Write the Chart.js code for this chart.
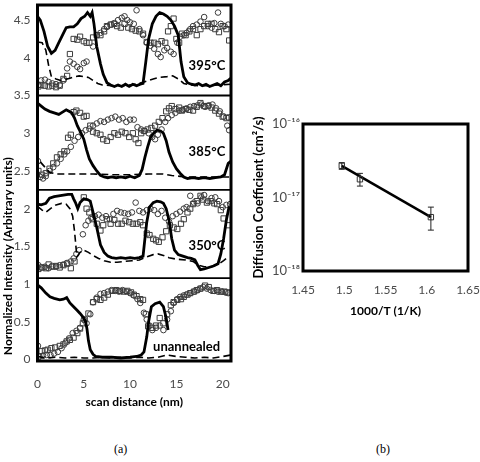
<!DOCTYPE html>
<html><head><meta charset="utf-8">
<script src="https://cdn.jsdelivr.net/npm/chart.js@4/dist/chart.umd.min.js"></script>
<style>
html,body{margin:0;padding:0;background:#fff;width:480px;height:462px;overflow:hidden;}
#wa{position:absolute;left:0;top:0;width:240px;height:412px;}
#wb{position:absolute;left:250px;top:90px;width:230px;height:240px;}
.cap{position:absolute;top:442px;line-height:14px;font-family:"Liberation Serif","DejaVu Serif",serif;font-size:12px;color:#000;}
</style></head><body>
<div id="wa"><canvas id="ca" width="240" height="412"></canvas></div>
<div id="wb"><canvas id="cb" width="230" height="240"></canvas></div>
<div class="cap" style="left:114px">(a)</div>
<div class="cap" style="left:376px">(b)</div>
<script>
// ---------- DATA: panel (a) scan profiles [distance nm, normalized intensity] ----------
const s395Solid = [[0,4.55],[0.3,4.5],[0.7,4.35],[1.1,4.15],[1.5,4.06],[1.9,4.1],[2.3,4.2],[2.7,4.3],[3.1,4.4],[3.5,4.41],[3.9,4.41],[4.3,4.45],[4.7,4.52],[5.1,4.55],[5.4,4.6],[5.7,4.55],[5.9,4.6],[6.1,4.45],[6.4,4.15],[6.8,3.92],[7.1,3.78],[7.5,3.67],[7.9,3.64],[8.3,3.62],[8.7,3.64],[9.1,3.62],[9.5,3.65],[9.9,3.62],[10.3,3.65],[10.7,3.63],[11.1,3.65],[11.4,3.66],[11.7,3.95],[12.0,4.25],[12.4,4.45],[12.8,4.55],[13.2,4.6],[13.6,4.58],[14.0,4.55],[14.4,4.5],[14.8,4.42],[15.2,4.3],[15.5,3.95],[15.8,3.75],[16.2,3.67],[16.6,3.65],[17.0,3.64],[17.4,3.66],[17.8,3.63],[18.2,3.65],[18.6,3.62],[19.0,3.64],[19.4,3.66],[19.8,3.63],[20.2,3.68],[20.6,3.7],[20.9,3.73]];
const s395Dashed = [[0,4.21],[0.5,4.2],[0.9,4.1],[1.2,3.9],[1.5,3.75],[2.0,3.72],[2.5,3.7],[3.0,3.71],[3.5,3.73],[4.0,3.75],[4.5,3.76],[5.0,3.75],[5.5,3.74],[6.0,3.7],[6.5,3.66],[7.0,3.64],[8,3.63],[9,3.63],[10,3.64],[11,3.66],[11.8,3.69],[12.5,3.72],[13.2,3.74],[14,3.75],[14.6,3.76],[15.2,3.72],[15.8,3.66],[16.5,3.64],[17.5,3.63],[18.5,3.63],[19.5,3.64],[20.9,3.65]];
const s395Circles = [[0.1,3.64],[0.4,3.7],[0.8,3.71],[1.2,3.68],[1.6,3.66],[2.0,3.65],[2.4,3.64],[2.8,3.7],[3.2,3.86],[3.5,3.95],[3.9,3.92],[4.3,3.88],[4.6,3.85],[5.0,3.93],[5.3,3.95],[6.0,4.15],[6.4,4.3],[6.8,4.33],[7.2,4.38],[7.5,4.41],[7.9,4.44],[8.3,4.46],[8.7,4.5],[9.1,4.53],[9.4,4.55],[9.7,4.5],[10.0,4.47],[10.4,4.45],[10.7,4.63],[11.0,4.38],[11.4,4.3],[11.8,4.2],[12.2,4.16],[12.6,4.12],[13.0,4.05],[13.3,4.01],[13.7,4.1],[14.0,4.13],[14.4,4.08],[14.7,4.05],[15.1,4.2],[15.4,4.28],[15.8,4.3],[16.1,4.33],[16.5,4.38],[16.8,4.42],[17.2,4.44],[17.6,4.48],[18.0,4.54],[18.4,4.42],[18.8,4.4],[19.1,4.46],[19.5,4.6],[19.8,4.45],[20.2,4.42],[20.6,4.44]];
const s395Squares = [[0.1,3.62],[0.4,3.64],[0.8,3.63],[1.2,3.62],[1.6,3.63],[2.0,3.61],[2.4,3.63],[2.8,3.72],[3.2,3.76],[3.5,4.05],[3.9,4.25],[4.3,4.24],[4.6,4.28],[5.0,4.22],[5.3,4.2],[5.6,4.2],[6.0,4.27],[6.4,4.3],[6.8,4.3],[7.2,4.35],[7.5,4.42],[7.9,4.44],[8.3,4.45],[8.6,4.42],[9.0,4.4],[9.4,4.45],[9.8,4.4],[10.2,4.38],[10.6,4.36],[11.0,4.35],[11.4,4.32],[11.8,4.21],[12.2,4.2],[12.6,4.2],[13.0,4.18],[13.4,4.22],[13.8,4.2],[14.1,4.35],[14.4,4.42],[14.7,4.52],[15.0,4.25],[15.3,4.2],[15.6,4.32],[16.0,4.3],[16.4,4.35],[16.8,4.38],[17.2,4.3],[17.6,4.38],[18.0,4.42],[18.4,4.45],[18.8,4.45],[19.2,4.38],[19.6,4.34],[20.0,4.42],[20.4,4.38],[20.7,4.23]];

const s385Solid = [[0,3.4],[0.4,3.36],[0.8,3.32],[1.3,3.29],[1.8,3.27],[2.3,3.25],[2.7,3.28],[3.1,3.31],[3.4,3.29],[3.7,3.27],[4.0,3.2],[4.3,3.1],[4.7,3.0],[5.0,2.92],[5.3,2.78],[5.6,2.66],[6.0,2.57],[6.4,2.5],[6.8,2.44],[7.2,2.42],[7.6,2.41],[8.0,2.42],[8.5,2.41],[9.0,2.42],[9.5,2.41],[10.0,2.43],[10.5,2.41],[11.0,2.44],[11.3,2.52],[11.6,2.68],[11.9,2.82],[12.2,2.94],[12.6,3.01],[12.9,3.04],[13.3,3.03],[13.6,3.0],[13.9,2.9],[14.2,2.75],[14.6,2.62],[15.0,2.53],[15.4,2.47],[15.8,2.42],[16.2,2.4],[16.8,2.41],[17.4,2.4],[18.0,2.41],[18.6,2.4],[19.2,2.41],[19.8,2.42],[20.2,2.45],[20.6,2.6],[20.9,2.63]];
const s385Dashed = [[0.3,2.62],[0.8,2.55],[1.3,2.48],[2,2.46],[4,2.46],[6,2.46],[8,2.45],[10,2.45],[12,2.46],[13.5,2.46],[14.5,2.44],[16,2.42],[18,2.42],[20.9,2.42]];
const s385Circles = [[0.05,2.63],[0.3,2.42],[0.6,2.4],[0.9,2.43],[1.3,2.5],[1.7,2.55],[2.1,2.6],[2.5,2.66],[2.9,2.72],[3.2,2.76],[3.6,2.82],[4.0,2.9],[4.4,2.95],[4.8,3.0],[5.2,3.04],[5.6,3.06],[6.0,3.1],[6.4,3.13],[6.8,3.16],[7.2,3.15],[7.6,3.18],[8.0,3.2],[8.4,3.22],[8.8,3.18],[9.2,3.2],[9.6,3.15],[10.0,3.18],[10.4,3.18],[10.8,3.08],[11.2,3.05],[11.6,3.03],[12.0,3.0],[12.4,2.95],[12.7,2.92],[13.0,2.98],[13.4,3.05],[13.8,3.15],[14.1,3.2],[14.5,3.24],[14.9,3.27],[15.3,3.3],[15.7,3.31],[16.1,3.33],[16.5,3.35],[16.9,3.36],[17.3,3.37],[17.7,3.38],[18.1,3.35],[18.5,3.37],[18.9,3.38],[19.3,3.33],[19.7,3.29],[20.1,3.22],[20.5,3.1],[20.7,3.04]];
const s385Squares = [[0.1,2.5],[0.5,2.45],[0.9,2.47],[1.3,2.53],[1.7,2.6],[2.1,2.68],[2.5,2.72],[2.9,2.76],[3.3,2.94],[3.6,2.98],[3.9,3.28],[4.2,3.3],[4.6,3.27],[5.0,3.22],[5.3,3.23],[5.7,3.1],[6.0,3.02],[6.4,3.0],[6.8,2.98],[7.1,2.92],[7.5,2.9],[7.9,2.95],[8.3,3.0],[8.7,2.98],[9.1,3.02],[9.5,3.0],[9.9,2.95],[10.3,3.0],[10.6,2.92],[10.9,2.87],[11.2,3.0],[11.5,3.03],[11.9,3.05],[12.3,3.07],[12.7,3.1],[13.1,3.15],[13.5,3.2],[13.9,3.29],[14.2,3.33],[14.5,3.36],[14.9,3.32],[15.3,3.34],[15.6,3.3],[16.0,3.32],[16.4,3.31],[16.8,3.3],[17.2,3.35],[17.6,3.4],[18.0,3.36],[18.4,3.36],[18.8,3.34],[19.2,3.3],[19.6,3.26],[20.0,3.22],[20.4,3.2],[20.7,3.21]];

const s350Solid = [[0,2.06],[0.4,2.05],[0.9,2.07],[1.3,2.14],[1.8,2.16],[2.3,2.17],[2.8,2.18],[3.3,2.19],[3.7,2.19],[3.9,2.13],[4.1,2.08],[4.35,2.0],[4.6,2.08],[5.0,2.13],[5.4,2.12],[5.7,2.1],[6.0,1.95],[6.4,1.75],[6.8,1.52],[7.2,1.42],[7.6,1.37],[8.0,1.35],[8.5,1.34],[9.0,1.35],[9.5,1.34],[10.0,1.35],[10.5,1.34],[11.0,1.35],[11.4,1.37],[11.6,1.6],[11.8,1.82],[12.1,2.02],[12.5,2.08],[12.9,2.1],[13.3,2.09],[13.6,2.07],[13.9,2.0],[14.2,1.85],[14.5,1.6],[14.8,1.45],[15.2,1.39],[15.7,1.37],[16.2,1.35],[16.6,1.34],[17.0,1.32],[17.3,1.25],[17.6,1.19],[18.0,1.2],[18.5,1.22],[19.0,1.24],[19.5,1.27],[19.8,1.4],[20.1,1.6],[20.4,1.85],[20.7,2.03]];
const s350Dashed = [[0,2.03],[0.5,1.98],[0.9,1.95],[1.4,2.0],[2.0,2.05],[2.6,2.07],[3.1,2.06],[3.5,2.0],[3.8,1.9],[4.0,1.7],[4.15,1.5],[4.25,1.36],[4.6,1.42],[5.0,1.45],[5.5,1.42],[6.0,1.38],[6.6,1.34],[7.2,1.31],[7.9,1.29],[8.6,1.29],[9.4,1.3],[10.2,1.31],[11,1.32],[11.8,1.36],[12.5,1.39],[13.0,1.4],[13.6,1.38],[14.2,1.35],[15.0,1.33],[16.0,1.32],[16.8,1.3],[17.4,1.25],[18.0,1.23],[18.8,1.23],[19.5,1.26],[20.1,1.31],[20.5,1.35]];
const s350Circles = [[0.1,1.25],[0.4,1.22],[0.8,1.23],[1.2,1.21],[1.6,1.24],[2.0,1.23],[2.4,1.25],[2.8,1.26],[3.2,1.28],[3.6,1.3],[3.9,1.34],[4.2,1.4],[4.5,1.45],[4.9,1.66],[5.2,1.78],[5.5,1.84],[5.8,1.88],[6.2,1.9],[6.6,1.92],[7.0,1.88],[7.4,1.9],[7.8,1.86],[8.2,1.93],[8.6,1.97],[9.0,1.95],[9.4,1.94],[9.8,1.93],[10.2,1.95],[10.6,2.08],[11.0,1.97],[11.4,1.95],[11.8,1.98],[12.2,2.0],[12.6,1.98],[13.0,1.93],[13.4,1.97],[13.8,1.88],[14.2,1.83],[14.6,1.9],[15.0,1.93],[15.4,1.96],[15.8,2.0],[16.1,2.02],[16.5,2.17],[16.9,2.08],[17.3,2.07],[17.7,2.15],[18.0,2.18],[18.4,2.1],[18.8,2.14],[19.2,2.15],[19.6,2.1],[20.0,2.02],[20.4,2.05],[20.8,2.06]];
const s350Squares = [[0.1,1.2],[0.5,1.22],[0.9,1.21],[1.2,1.26],[1.6,1.23],[2.0,1.24],[2.4,1.22],[2.8,1.25],[3.2,1.27],[3.6,1.21],[4.0,1.3],[5.0,2.15],[5.3,2.0],[5.6,1.95],[5.95,1.86],[6.4,1.8],[6.8,1.71],[7.1,1.78],[7.5,1.86],[7.9,1.8],[8.3,1.85],[8.7,1.8],[9.1,1.8],[9.5,1.84],[9.9,1.82],[10.3,1.8],[10.7,1.8],[11.1,1.82],[11.4,1.78],[11.8,1.67],[12.1,1.65],[12.5,1.6],[12.8,1.58],[13.1,1.56],[13.5,1.62],[13.9,1.7],[14.3,1.78],[14.7,1.75],[15.1,1.73],[15.5,1.8],[15.8,1.86],[16.2,1.95],[16.5,2.0],[16.8,2.06],[17.2,2.1],[17.6,2.17],[17.9,2.12],[18.3,2.08],[18.7,2.1],[19.1,2.07],[19.4,2.06],[19.8,1.98],[20.1,1.87],[20.6,1.78]];

const s0Solid = [[0,0.99],[0.4,0.95],[0.9,0.88],[1.35,0.83],[1.8,0.81],[2.4,0.79],[2.8,0.8],[3.15,0.82],[3.5,0.75],[3.9,0.7],[4.3,0.65],[4.6,0.61],[5.0,0.55],[5.2,0.5],[5.35,0.4],[5.5,0.25],[5.7,0.13],[6.0,0.07],[6.3,0.04],[7,0.03],[8,0.03],[9,0.02],[10,0.03],[10.7,0.04],[11.2,0.06],[11.5,0.1],[11.8,0.3],[12.0,0.5],[12.3,0.7],[12.7,0.74],[13.2,0.76],[13.6,0.7],[13.9,0.55],[14.1,0.39]];
const s0Dashed = [[0,0.04],[1,0.02],[2,0.03],[3,0.02],[4,0.03],[5,0.02],[6,0.02],[7,0.03],[8,0.02],[9,0.03],[10,0.02],[11,0.03],[12,0.02],[13,0.03],[14,0.06],[15,0.04],[16,0.03],[17,0.02],[18,0.03],[19,0.02],[20,0.04],[20.9,0.06]];
const s0Circles = [[0.05,0.18],[0.2,0.04],[0.6,0.05],[1.0,0.06],[1.4,0.06],[1.8,0.08],[2.2,0.1],[2.6,0.15],[3.0,0.22],[3.4,0.28],[3.8,0.35],[4.2,0.38],[4.6,0.42],[5.0,0.53],[5.3,0.48],[5.7,0.6],[6.0,0.76],[6.4,0.82],[6.8,0.87],[7.2,0.88],[7.6,0.9],[8.0,0.92],[8.4,0.91],[8.8,0.9],[9.2,0.92],[9.6,0.9],[10.0,0.88],[10.4,0.85],[10.8,0.8],[11.1,0.75],[11.5,0.62],[11.8,0.53],[12.1,0.45],[12.4,0.39],[12.8,0.42],[13.2,0.45],[13.6,0.39],[14.0,0.53],[14.4,0.64],[14.7,0.75],[15.1,0.8],[15.4,0.83],[15.8,0.85],[16.1,0.86],[16.5,0.88],[16.9,0.9],[17.3,0.92],[17.6,0.94],[17.9,0.96],[18.3,0.94],[18.7,0.92],[19.1,0.91],[19.5,0.9],[19.9,0.9],[20.3,0.89],[20.6,0.88]];
const s0Squares = [[0.1,0.04],[0.45,0.11],[0.8,0.12],[1.1,0.13],[1.5,0.15],[1.9,0.16],[2.4,0.18],[2.8,0.2],[3.15,0.24],[3.5,0.26],[3.9,0.29],[4.3,0.35],[4.6,0.41],[4.9,0.48],[5.1,0.53],[5.5,0.61],[6.0,0.76],[6.4,0.8],[6.8,0.79],[7.2,0.82],[7.6,0.86],[8.1,0.91],[8.5,0.92],[8.9,0.91],[9.3,0.9],[9.7,0.91],[10.1,0.89],[10.4,0.86],[10.7,0.84],[11.1,0.8],[11.4,0.79],[11.7,0.6],[11.95,0.44],[12.4,0.42],[12.8,0.45],[13.2,0.55],[13.6,0.48],[14.0,0.6],[14.4,0.72],[14.7,0.76],[15.1,0.79],[15.5,0.8],[15.8,0.83],[16.2,0.86],[16.5,0.88],[16.9,0.9],[17.2,0.92],[17.6,0.94],[18.1,0.98],[18.5,0.96],[19.0,0.91],[19.4,0.92],[19.8,0.9],[20.2,0.9],[20.5,0.89]];

const separatorLevels = [3.5, 2.25, 1.08];
const panelLabels = ['395°C', '385°C', '350°C', 'unannealed'];
const panelLabelX = [18.3, 18.3, 18.3, 16.1];
const panelLabelY = [3.89, 2.76, 1.51, 0.17];

// ---------- DATA: panel (b) Arrhenius ----------
const invTemp = [1.497, 1.519, 1.605];
const diffCoef = [2.7e-17, 1.77e-17, 5.4e-18];
const diffLow = [2.42e-17, 1.43e-17, 3.6e-18];
const diffHigh = [2.98e-17, 2.13e-17, 7.4e-18];
const fitX = [1.497, 1.605];
const fitY = [2.7e-17, 5.4e-18];

// ---------- RENDER ----------
const FONT = 'Lato, "Open Sans", "DejaVu Sans", sans-serif';
Chart.defaults.font.family = FONT;
Chart.defaults.font.size = 12;
const TICK = '#4a4a4a';
const trim = v => String(parseFloat(Number(v).toFixed(2)));

const pts = a => a.map(p => ({x: p[0], y: p[1]}));
const solidDs = a => ({type:'line', data: pts(a), borderColor:'#000', borderWidth:2.8, pointRadius:0, tension:0, fill:false});
const dashDs = a => ({type:'line', data: pts(a), borderColor:'#000', borderWidth:1.6, borderDash:[7,4], pointRadius:0, tension:0, fill:false});
const markDs = (a, style) => ({type:'scatter', data: pts(a), showLine:false, pointStyle: style, pointRadius: style==='rect'?3.7:2.8, borderColor:'#3c3c3c', backgroundColor:'rgba(255,255,255,0)', borderWidth:1});

const framePlugin = {id:'frame', afterDraw(chart){
  const a = chart.chartArea, c = chart.ctx;
  c.save(); c.strokeStyle = '#000'; c.lineWidth = 3;
  c.strokeRect(a.left, a.top, a.right - a.left, a.bottom - a.top);
  c.restore();
}};
const labelPlugin = {id:'plabels', afterDatasetsDraw(chart){
  const c = chart.ctx, xs = chart.scales.x, ys = chart.scales.y;
  c.save(); c.font = 'bold 13px ' + FONT; c.fillStyle = '#000'; c.textAlign = 'center'; c.textBaseline = 'middle';
  panelLabels.forEach((t, i) => c.fillText(t, xs.getPixelForValue(panelLabelX[i]), ys.getPixelForValue(panelLabelY[i])));
  c.restore();
}};
const noPadX = s => { s.paddingLeft = 0; s.paddingRight = 0; };
const noPadY = s => { s.paddingTop = 0; s.paddingBottom = 0; };

const dsA = [];
separatorLevels.forEach(v => dsA.push({type:'line', data:[{x:0,y:v},{x:20.9,y:v}], borderColor:'#000', borderWidth:1.8, pointRadius:0}));
[[s395Solid,s395Dashed,s395Circles,s395Squares],[s385Solid,s385Dashed,s385Circles,s385Squares],[s350Solid,s350Dashed,s350Circles,s350Squares],[s0Solid,s0Dashed,s0Circles,s0Squares]].forEach(g => {
  dsA.push(solidDs(g[0]), dashDs(g[1]), markDs(g[2],'circle'), markDs(g[3],'rect'));
});

new Chart(document.getElementById('ca'), {
  type:'scatter',
  data:{datasets: dsA},
  options:{
    responsive:false, animation:false, devicePixelRatio:1,
    layout:{padding:{left:0,right:9,top:3,bottom:0}},
    plugins:{legend:{display:false}, tooltip:{enabled:false}},
    scales:{
      x:{type:'linear', min:0, max:20.9, grid:{display:false, drawTicks:false}, border:{display:false},
        ticks:{stepSize:5, includeBounds:false, padding:16, color:TICK, font:{size:12}, callback:trim},
        title:{display:true, text:'scan distance (nm)', color:'#000', font:{size:12, weight:'bold'}, padding:{top:0,bottom:3}},
        afterFit(s){ s.height = 51; noPadX(s); }},
      y:{type:'linear', min:-0.02, max:4.7, grid:{display:false, drawTicks:false}, border:{display:false},
        ticks:{stepSize:0.5, includeBounds:false, padding:7, color:TICK, font:{size:12}, callback:trim},
        title:{display:true, align:'start', text:'  Normalized Intensity (Arbitrary units)', color:'#000', font:{size:12, weight:'bold'}, padding:{top:1,bottom:0}},
        afterFit(s){ s.width = 37.5; noPadY(s); }}
    }
  },
  plugins:[framePlugin, labelPlugin]
});

// ---------- panel (b) ----------
const SUP = {'-':'⁻','0':'⁰','1':'¹','2':'²','3':'³','4':'⁴','5':'⁵','6':'⁶','7':'⁷','8':'⁸','9':'⁹'};
const powLabel = v => '10' + String(Math.round(Math.log10(v))).split('').map(ch => SUP[ch]).join('');
const errPlugin = {id:'errbars', afterDatasetsDraw(chart){
  const c = chart.ctx, xs = chart.scales.x, ys = chart.scales.y;
  c.save(); c.strokeStyle = '#222'; c.lineWidth = 1;
  invTemp.forEach((t, i) => {
    const px = xs.getPixelForValue(t), y1 = ys.getPixelForValue(diffLow[i]), y2 = ys.getPixelForValue(diffHigh[i]);
    c.beginPath();
    c.moveTo(px, y1); c.lineTo(px, y2);
    c.moveTo(px - 3, y1); c.lineTo(px + 3, y1);
    c.moveTo(px - 3, y2); c.lineTo(px + 3, y2);
    c.stroke();
  });
  c.restore();
}};

new Chart(document.getElementById('cb'), {
  type:'scatter',
  data:{datasets:[
    {type:'scatter', data: invTemp.map((t,i)=>({x:t, y:diffCoef[i]})), pointStyle:'rect', pointRadius:3.8, borderColor:'#333', backgroundColor:'rgba(255,255,255,0)', borderWidth:1},
    {type:'line', data: fitX.map((t,i)=>({x:t, y:fitY[i]})), borderColor:'#000', borderWidth:2.5, pointRadius:0, tension:0}
  ]},
  options:{
    responsive:false, animation:false, devicePixelRatio:1,
    layout:{padding:{left:0,right:12,top:34,bottom:0}},
    plugins:{legend:{display:false}, tooltip:{enabled:false}},
    scales:{
      x:{type:'linear', min:1.45, max:1.65, grid:{display:false, drawTicks:false}, border:{display:false},
        ticks:{stepSize:0.05, includeBounds:false, padding:12, color:TICK, font:{size:12}, callback:trim},
        title:{display:true, text:'1000/T (1/K)', color:'#000', font:{size:12, weight:'bold'}, padding:{top:0,bottom:12}},
        afterFit(s){ s.height = 59; noPadX(s); }},
      y:{type:'logarithmic', min:1e-18, max:1e-16, grid:{display:false, drawTicks:false}, border:{display:false},
        afterBuildTicks(s){ s.ticks = [{value:1e-18},{value:1e-17},{value:1e-16}]; },
        ticks:{padding:3, color:TICK, font:{size:13}, callback:v => powLabel(v)},
        title:{display:true, text:'Diffusion Coefficient (cm²/s)', color:'#000', font:{size:13, weight:'bold'}, padding:{top:1,bottom:0}},
        afterFit(s){ s.width = 53; noPadY(s); }}
    }
  },
  plugins:[framePlugin, errPlugin]
});
</script>
</body></html>
